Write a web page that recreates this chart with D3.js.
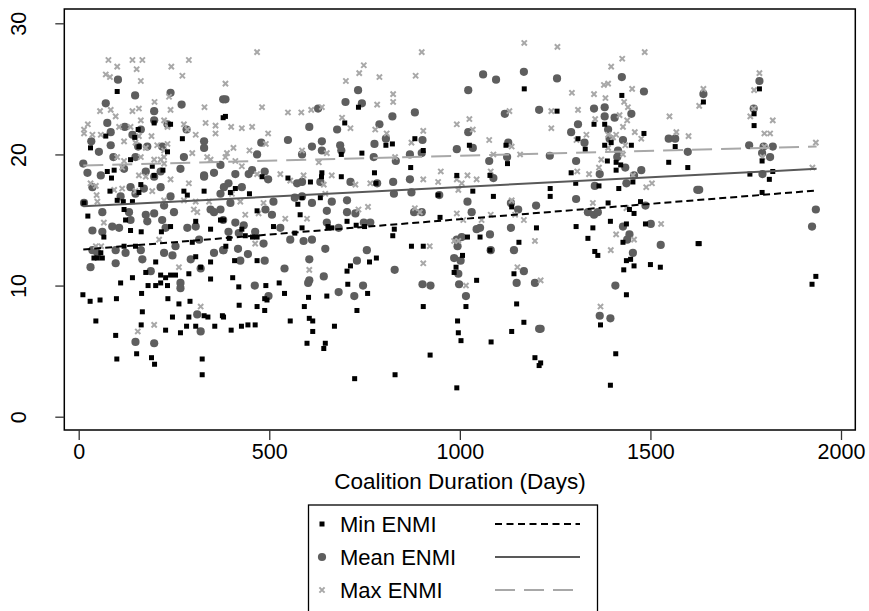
<!DOCTYPE html>
<html><head><meta charset="utf-8">
<script src="https://cdn.jsdelivr.net/npm/d3@7"></script>
<style>
html,body{margin:0;padding:0;background:#fff;}
svg{display:block;}
text{font-family:"Liberation Sans",Arial,Helvetica,sans-serif;}
</style></head>
<body><svg id="chart" width="869" height="611"></svg>
<script>
// ---- data: [duration in days, ENMI] ----
const minENMI = [
[101,24.8],[156,21.9],[198,22.4],[241,22.3],[71,21.4],[147,21.3],[272,21.2],[379,22.8],[31,20.5],[75,18.7],[93,18.8],[86,18.2],[158,20.6],[163,17.7],[136,19.6],[193,19.1],[198,18.4],[221,18.8],[233,20.2],[82,17.2],[101,16.5],[117,16.4],[141,16.4],[158,17.1],[119,15.8],[123,15.0],[136,14.2],[164,14.1],[217,14.1],[241,14.5],[307,14.9],[346,14.3],[372,15.0],[276,17.2],[285,16.9],[329,17.2],[14,16.3],[24,15.3],[66,13.7],[40,12.1],[49,12.1],[62,12.1],[58,12.5],[119,13.0],[149,13.0],[176,11.0],[202,11.8],[215,10.8],[228,10.6],[241,10.8],[254,10.8],[289,10.9],[307,12.2],[320,11.4],[346,10.5],[346,11.8],[298,13.3],[263,8.6],[110,10.2],[141,10.6],[165,9.4],[182,10.0],[202,10.0],[215,10.2],[233,10.0],[234,9.0],[292,8.8],[11,9.3],[30,8.8],[56,8.9],[99,9.0],[167,8.0],[246,7.6],[289,7.6],[307,6.9],[329,7.7],[339,7.6],[357,6.9],[377,7.7],[228,6.6],[267,6.4],[283,6.9],[45,7.3],[164,7.0],[97,6.2],[100,4.4],[152,4.8],[191,4.5],[199,4.0],[324,4.4],[324,3.2],
[385,22.9],[734,23.6],[698,22.4],[689,20.0],[743,20.1],[776,18.6],[780,17.8],[638,18.6],[689,18.3],[637,18.3],[549,18.2],[481,18.3],[608,17.9],[398,17.1],[448,17.0],[411,17.4],[586,16.7],[634,16.7],[575,16.2],[468,15.7],[581,15.4],[511,14.5],[586,14.4],[567,14.0],[654,14.5],[664,14.4],[704,14.9],[728,14.6],[750,14.5],[380,15.0],[428,14.3],[395,13.6],[437,13.8],[456,13.7],[468,13.7],[386,13.0],[409,11.9],[468,11.9],[404,10.6],[420,9.9],[491,10.0],[526,10.2],[540,9.4],[488,9.0],[494,8.9],[421,8.5],[468,8.4],[488,8.1],[592,8.4],[603,9.1],[651,9.2],[704,11.1],[713,11.5],[706,10.1],[758,9.4],[763,11.8],[781,12.1],[730,8.1],[555,7.3],[605,7.5],[614,7.3],[614,6.5],[671,6.9],[380,7.6],[400,6.6],[427,6.9],[444,7.0],[463,7.0],[599,5.6],[647,5.6],[643,5.2],[724,2.9],
[1169,25.0],[882,21.2],[904,20.3],[806,20.7],[823,20.8],[871,19.0],[1025,20.7],[1121,20.7],[1125,19.3],[992,18.4],[1079,18.4],[1034,17.2],[943,16.9],[1088,16.8],[948,15.2],[1136,16.0],[828,14.3],[824,13.8],[1020,13.7],[1053,13.7],[1079,12.7],[1155,13.3],[1201,14.4],[873,13.0],[904,13.0],[1007,12.3],[990,11.4],[985,11.0],[1044,10.4],[1142,10.9],[1149,8.6],[904,8.4],[1016,8.4],[994,7.3],[996,6.4],[1003,5.8],[1082,5.7],[1136,6.5],[1168,7.2],[922,4.7],[1197,4.5],[1208,3.9],[830,3.2],[992,2.2],
[1255,23.3],[1425,24.5],[1352,22.3],[1380,22.3],[1483,21.6],[1310,21.2],[1329,20.4],[1380,20.7],[1397,20.9],[1450,20.7],[1565,20.6],[1292,18.6],[1387,19.5],[1410,18.8],[1410,19.4],[1422,19.2],[1548,19.4],[1598,19.0],[1304,17.8],[1365,17.6],[1454,17.9],[1417,17.4],[1237,17.4],[1237,16.8],[1389,16.3],[1474,16.4],[1445,15.8],[1457,15.5],[1395,14.9],[1487,14.7],[1437,14.7],[1305,14.5],[1349,14.4],[1336,13.6],[1354,12.6],[1362,12.3],[1428,13.3],[1437,11.9],[1448,12.0],[1457,11.5],[1430,11.2],[1500,11.6],[1526,11.4],[1437,9.3],[1369,7.0],[1409,4.8],[1395,2.4],[1212,4.1],[1625,13.2],
[1639,24.0],[1786,25.0],[1772,23.1],[1772,22.2],[1793,19.5],[1761,18.5],[1821,18.7],[1812,18.1],[1793,17.1],[1628,13.2],[1934,10.7],[1924,10.1]
];
const meanENMI = [
[103,25.7],[148,24.5],[241,24.7],[270,23.8],[71,23.9],[198,23.3],[233,22.3],[379,24.2],[75,22.4],[84,21.7],[121,22.1],[141,21.5],[163,21.9],[198,22.6],[283,21.9],[33,21.0],[53,20.2],[84,20.7],[156,20.6],[180,20.6],[219,20.6],[329,21.0],[329,20.5],[12,19.3],[23,18.6],[58,18.4],[91,19.8],[149,19.8],[119,18.9],[176,18.7],[198,18.3],[215,18.7],[267,18.9],[276,19.8],[329,18.4],[372,19.2],[355,18.6],[381,17.5],[36,17.5],[14,16.3],[62,15.6],[110,16.8],[132,15.6],[136,17.5],[149,17.0],[171,17.4],[215,17.5],[241,16.8],[250,15.6],[224,16.1],[198,15.5],[176,15.4],[136,15.0],[88,14.5],[62,14.1],[36,14.2],[106,14.4],[180,14.9],[219,15.0],[228,14.4],[285,14.4],[307,14.5],[346,15.8],[372,15.8],[36,12.7],[49,12.5],[31,11.4],[97,12.7],[97,11.7],[123,12.5],[163,12.7],[167,12.0],[189,11.1],[224,12.5],[246,12.3],[254,13.0],[294,12.0],[320,11.3],[316,13.5],[267,10.2],[267,9.8],[311,7.8],[320,6.5],[149,5.7],[198,5.6],[355,12.5],[379,12.7],[379,15.0],[355,15.6],[372,17.0],[329,18.3],
[385,24.2],[733,24.9],[700,24.0],[743,23.9],[789,22.3],[678,21.9],[549,21.1],[605,22.1],[628,23.5],[638,21.0],[612,20.6],[638,20.3],[686,20.7],[689,20.3],[468,20.0],[479,20.9],[586,20.0],[776,20.8],[774,19.8],[455,18.8],[446,18.5],[488,18.7],[497,18.1],[411,18.5],[393,17.8],[428,17.5],[573,17.8],[586,17.9],[634,17.9],[713,17.9],[783,17.8],[511,16.4],[567,16.7],[586,16.8],[612,16.3],[664,16.4],[704,16.5],[704,15.6],[726,15.5],[490,15.8],[507,15.4],[398,16.3],[411,14.8],[433,14.6],[393,14.1],[420,14.0],[463,14.1],[529,14.4],[651,15.7],[651,14.8],[682,14.4],[748,14.8],[765,14.8],[555,13.5],[590,13.4],[612,13.5],[485,13.2],[647,12.8],[418,12.8],[380,12.7],[444,12.4],[424,11.9],[488,11.9],[605,12.0],[540,11.3],[756,12.7],[730,11.9],[643,10.7],[602,10.2],[605,10.4],[462,10.0],[498,9.2],[682,9.5],[723,9.2],[746,10.0],
[1061,26.1],[1095,25.7],[1022,24.9],[1168,26.3],[1208,23.4],[823,22.9],[882,23.2],[1118,23.1],[806,21.2],[902,21.1],[1022,21.7],[992,20.4],[1034,20.5],[869,20.0],[900,20.1],[1127,20.9],[1124,19.8],[832,19.5],[1077,19.5],[825,17.9],[869,18.1],[1088,18.2],[827,17.0],[873,17.1],[946,16.9],[1020,16.4],[1031,15.6],[880,15.6],[900,15.6],[1134,16.3],[1153,15.8],[1200,16.1],[1134,14.4],[1044,14.3],[1053,14.4],[1079,13.9],[992,13.5],[1005,13.7],[994,13.0],[1081,12.7],[1142,12.7],[985,12.1],[1002,11.9],[996,10.9],[1168,11.1],[1149,10.2],[1197,10.2],[829,11.2],[902,10.1],[923,10.0],[998,10.1],[1016,9.2],[1208,6.7],
[1255,25.8],[1425,25.9],[1483,24.8],[1352,23.5],[1380,23.6],[1380,22.9],[1406,22.8],[1450,23.1],[1310,22.3],[1292,21.7],[1327,20.9],[1389,21.9],[1393,21.2],[1428,21.1],[1415,20.3],[1548,21.2],[1565,21.2],[1598,20.2],[1236,19.9],[1305,19.5],[1413,19.8],[1434,19.0],[1476,18.8],[1367,18.5],[1457,18.4],[1437,17.8],[1354,17.6],[1623,17.3],[1305,16.6],[1336,15.6],[1352,15.4],[1362,15.6],[1487,16.1],[1501,14.7],[1428,14.5],[1445,13.9],[1439,13.5],[1527,13.1],[1454,12.5],[1408,10.0],[1367,7.7],[1395,7.5],[1212,6.7],
[1639,24.6],[1786,25.6],[1771,23.5],[1759,20.7],[1797,20.6],[1821,20.6],[1793,20.1],[1814,19.8],[1794,18.5],[1628,17.3],[1934,15.8],[1924,14.5]
];
const maxENMI = [
[78,27.2],[101,26.7],[141,27.2],[152,26.5],[167,27.2],[243,26.7],[289,27.2],[272,26.0],[71,26.1],[82,25.9],[163,25.6],[199,24.0],[237,24.4],[241,23.4],[56,23.3],[84,23.4],[97,22.9],[141,23.3],[158,23.5],[330,23.6],[14,21.9],[24,22.3],[36,21.5],[58,21.5],[106,22.1],[136,22.1],[163,22.6],[224,22.6],[233,22.1],[276,22.3],[333,22.4],[359,22.2],[359,21.6],[307,21.5],[285,21.9],[158,21.4],[191,21.4],[119,21.0],[149,20.9],[176,20.5],[206,20.7],[224,20.3],[233,20.8],[224,19.8],[215,19.6],[198,19.6],[163,19.8],[298,20.1],[337,19.8],[346,19.6],[101,19.8],[119,19.5],[114,19.0],[241,18.1],[158,18.4],[176,18.3],[31,17.8],[45,17.6],[47,16.9],[49,16.4],[93,17.3],[114,17.4],[149,17.2],[193,17.2],[289,17.8],[224,16.5],[276,16.5],[302,15.8],[311,15.6],[307,16.4],[342,16.4],[66,14.8],[45,13.0],[59,13.0],[263,11.4],[211,13.5],[198,7.0],[155,6.5],[320,8.4],[14,21.6],[224,19.3],
[468,27.8],[385,25.4],[481,23.6],[549,23.2],[584,23.2],[610,23.4],[638,23.6],[400,22.1],[428,22.0],[455,22.1],[497,21.6],[491,20.8],[448,20.3],[406,20.5],[385,19.8],[411,19.5],[428,19.1],[468,18.5],[529,18.5],[555,18.0],[590,18.4],[586,20.3],[651,20.1],[664,18.4],[643,17.7],[630,19.4],[691,22.8],[701,25.6],[736,26.2],[748,26.8],[789,25.9],[783,23.8],[713,22.0],[778,21.9],[726,17.7],[765,17.8],[759,16.0],[734,15.8],[402,17.0],[424,16.4],[437,15.4],[472,15.5],[485,16.3],[542,15.1],[599,15.1],[647,17.0],[463,13.2],[605,11.2],[389,20.1],
[900,27.8],[1169,28.5],[884,26.0],[825,24.6],[825,24.0],[1025,22.7],[992,22.3],[1034,21.9],[1130,23.3],[904,21.8],[1077,21.1],[808,21.6],[873,20.9],[1136,20.6],[1158,20.0],[830,19.8],[1088,20.0],[950,18.7],[1020,18.4],[1044,18.1],[992,18.1],[904,18.1],[943,17.9],[1005,17.8],[996,17.3],[1081,18.7],[882,15.9],[895,15.6],[992,15.5],[1009,15.0],[1057,15.0],[1081,15.4],[1136,16.5],[1145,15.4],[1168,15.0],[921,13.0],[985,13.4],[996,13.4],[904,11.7],[1197,13.4],[1151,11.4],[1016,10.0],
[1256,28.2],[1485,27.8],[1426,27.3],[1397,26.7],[1378,25.3],[1389,25.4],[1294,24.7],[1352,24.6],[1382,24.3],[1452,25.0],[1431,24.0],[1441,23.6],[1240,23.3],[1310,23.4],[1355,22.7],[1419,23.0],[1428,22.1],[1439,22.6],[1550,22.9],[1240,22.0],[1459,21.7],[1476,21.2],[1568,21.7],[1600,21.4],[1332,21.5],[1306,21.1],[1389,21.5],[1402,21.3],[1410,21.5],[1434,20.7],[1389,20.5],[1428,20.0],[1371,19.6],[1365,19.0],[1308,18.7],[1339,18.5],[1454,18.4],[1489,17.5],[1504,17.8],[1349,16.3],[1437,15.9],[1528,14.7],[1410,13.9],[1457,13.5],[1396,12.7],[1212,10.4],[1369,8.4],
[1639,25.0],[1628,23.7],[1786,26.2],[1772,24.9],[1762,22.9],[1771,23.5],[1821,22.6],[1799,21.6],[1814,21.6],[1799,20.6],[1794,19.8],[1934,20.9],[1925,19.0]
];
// fitted linear trend lines (endpoints)
const fitDays = [12, 1936];
const minFit  = [12.75, 17.25];
const meanFit = [16.05, 18.9];
const maxFit  = [19.15, 20.6];
const xTicks = [0, 500, 1000, 1500, 2000];
const yTicks = [0, 10, 20, 30];
const xTitle = "Coalition Duration (Days)";
const legendLabels = ["Min ENMI", "Mean ENMI", "Max ENMI"];

// ---- drawing ----
const svg = d3.select("#chart");
const C = {min:"#000000", mean:"#5e5e5e", max:"#a8a8a8"};
const x = d3.scaleLinear().domain([0, 2000]).range([78.7, 841]);
const y = d3.scaleLinear().domain([0, 30]).range([416.7, 23.3]);
const box = {l:64.3, t:9, r:855.3, b:430};

const plot = svg.append("g");

const R = 4.1, cs = 2.6, sq = 5;
plot.selectAll("circle.mean").data(meanENMI).enter().append("circle")
  .attr("class","mean").attr("cx",d=>x(d[0])).attr("cy",d=>y(d[1])).attr("r",R).attr("fill",C.mean);
plot.selectAll("path.max").data(maxENMI).enter().append("path")
  .attr("class","max")
  .attr("d",d=>{const cx=x(d[0]),cy=y(d[1]);return `M${cx-cs},${cy-cs}L${cx+cs},${cy+cs}M${cx-cs},${cy+cs}L${cx+cs},${cy-cs}`;})
  .attr("stroke",C.max).attr("stroke-width",2).attr("fill","none");
plot.selectAll("rect.min").data(minENMI).enter().append("rect")
  .attr("class","min").attr("x",d=>x(d[0])-sq/2).attr("y",d=>y(d[1])-sq/2).attr("width",sq).attr("height",sq).attr("fill",C.min);

// trend lines
const line = d3.line().x(d=>x(d[0])).y(d=>y(d[1]));
const mk = arr => fitDays.map((d,i)=>[d, arr[i]]);
plot.append("path").attr("d",line(mk(maxFit))).attr("stroke",C.max).attr("stroke-width",2).attr("stroke-dasharray","20,9").attr("fill","none");
plot.append("path").attr("d",line(mk(meanFit))).attr("stroke","#595959").attr("stroke-width",2).attr("fill","none");
plot.append("path").attr("d",line(mk(minFit))).attr("stroke",C.min).attr("stroke-width",2).attr("stroke-dasharray","7,4").attr("fill","none");

// plot frame
svg.append("rect").attr("x",box.l).attr("y",box.t).attr("width",box.r-box.l).attr("height",box.b-box.t)
  .attr("fill","none").attr("stroke","#000").attr("stroke-width",1.5);

// axes
const xAxis = svg.append("g").attr("transform",`translate(0,${box.b})`)
  .call(d3.axisBottom(x).tickValues(xTicks).tickSize(10).tickSizeOuter(0).tickFormat(d3.format("d")));
xAxis.select(".domain").remove();
xAxis.selectAll(".tick line").attr("stroke","#333").attr("stroke-width",1.3);
xAxis.selectAll(".tick text").attr("font-size",21.5).attr("fill","#000").attr("y",14).attr("dy","0.71em")
  .style("font-family","'Liberation Sans',Arial,sans-serif");

const yAxis = svg.append("g").attr("transform",`translate(${box.l},0)`)
  .call(d3.axisLeft(y).tickValues(yTicks).tickSize(9).tickSizeOuter(0));
yAxis.select(".domain").remove();
yAxis.selectAll(".tick line").attr("stroke","#333").attr("stroke-width",1.3);
yAxis.selectAll(".tick text").attr("font-size",21.5).attr("fill","#000")
  .attr("text-anchor","middle").attr("x",null).attr("dy",null)
  .attr("transform",`translate(${26-box.l},0) rotate(-90)`)
  .style("font-family","'Liberation Sans',Arial,sans-serif");

// x title
svg.append("text").attr("x",460).attr("y",489).attr("text-anchor","middle")
  .attr("font-size",22.5).text(xTitle);

// legend
const lg = svg.append("g");
lg.append("rect").attr("x",308.5).attr("y",505).attr("width",289).attr("height",130)
  .attr("fill","#fff").attr("stroke","#000").attr("stroke-width",1.3);
const rows = [524, 557, 590];
const styles = [
  {dash:"7,4.5", lc:"#000"},
  {dash:null, lc:"#595959"},
  {dash:"20,9", lc:C.max}
];
rows.forEach((ry,i)=>{
  const mx = 322;
  if(i===0) lg.append("rect").attr("x",mx-2.5).attr("y",ry-2.5).attr("width",5).attr("height",5).attr("fill",C.min);
  if(i===1) lg.append("circle").attr("cx",mx).attr("cy",ry).attr("r",R).attr("fill",C.mean);
  if(i===2) lg.append("path").attr("d",`M${mx-cs},${ry-cs}L${mx+cs},${ry+cs}M${mx-cs},${ry+cs}L${mx+cs},${ry-cs}`).attr("stroke",C.max).attr("stroke-width",2);
  lg.append("text").attr("x",340).attr("y",ry+8).attr("font-size",22).text(legendLabels[i]);
  lg.append("line").attr("x1",495).attr("x2",580).attr("y1",ry).attr("y2",ry)
    .attr("stroke",styles[i].lc).attr("stroke-width",2).attr("stroke-dasharray",styles[i].dash);
});
</script></body></html>
